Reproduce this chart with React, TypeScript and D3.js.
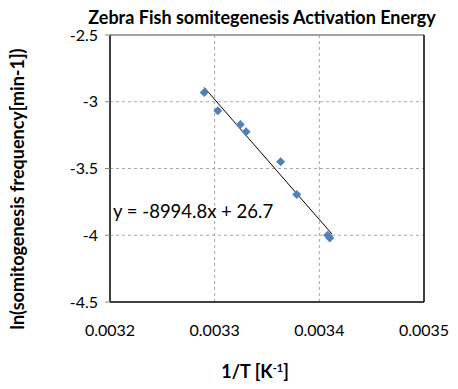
import { useEffect } from "react";
import * as d3 from "d3";

// measured data (1/T in K^-1, ln of somitogenesis frequency)
const invT = [0.00329, 0.003303, 0.0033245, 0.00333, 0.003363, 0.0033784, 0.003408, 0.00341];
const lnFreq = [-2.93, -3.068, -3.17, -3.225, -3.45, -3.695, -4.0, -4.02];

const xTicks = [0.0032, 0.0033, 0.0034, 0.0035];
const yTicks = [-2.5, -3, -3.5, -4, -4.5];

// fitted trendline
const slope = -8994.8;
const intercept = 26.7;
const fitRange = [0.00329, 0.003412];

const W = 458;
const H = 389;
const plot = { left: 110, right: 424, top: 35, bottom: 302 };
const FONT = "Lato, 'Open Sans', sans-serif";

export default function App() {
  useEffect(() => {
    document.body.style.margin = "0";
  }, []);

  const x = d3.scaleLinear().domain([0.0032, 0.0035]).range([plot.left, plot.right]);
  const y = d3.scaleLinear().domain([-4.5, -2.5]).range([plot.bottom, plot.top]);

  const diamond = (r: number) => `M0,${-r}L${r},0L0,${r}L${-r},0Z`;
  const fitLine = d3
    .line<number>()
    .x((d) => x(d))
    .y((d) => y(slope * d + intercept));

  return (
    <svg width={W} height={H} style={{ display: "block", background: "#fff" }} fontFamily={FONT}>
      {/* gridlines */}
      {xTicks.slice(1, -1).map((t) => (
        <line key={"gx" + t} x1={x(t)} x2={x(t)} y1={plot.top} y2={plot.bottom}
          stroke="#a6a6a6" strokeDasharray="3,3" strokeWidth={1} />
      ))}
      {yTicks.slice(1, -1).map((t) => (
        <line key={"gy" + t} x1={plot.left} x2={plot.right} y1={y(t)} y2={y(t)}
          stroke="#a6a6a6" strokeDasharray="3,3" strokeWidth={1} />
      ))}

      {/* plot area border */}
      <line x1={plot.left} x2={plot.right} y1={plot.top} y2={plot.top} stroke="#858585" strokeWidth={1.5} />
      <line x1={plot.right} x2={plot.right} y1={plot.top} y2={plot.bottom} stroke="#000" strokeWidth={1.5} />
      <line x1={plot.left} x2={plot.right} y1={plot.bottom} y2={plot.bottom} stroke="#000" strokeWidth={1.5} />
      <line x1={plot.left} x2={plot.left} y1={plot.top} y2={plot.bottom} stroke="#404040" strokeWidth={2} />

      {/* y ticks + labels */}
      {yTicks.map((t) => (
        <g key={"yt" + t}>
          <line x1={plot.left - 5} x2={plot.left} y1={y(t)} y2={y(t)} stroke="#858585" strokeWidth={1} />
          <text x={plot.left - 12} y={y(t)} dy="0.35em" textAnchor="end" fontSize={16} fill="#000">
            {String(t)}
          </text>
        </g>
      ))}

      {/* x labels */}
      {xTicks.map((t) => (
        <text key={"xt" + t} x={x(t)} y={plot.bottom + 28} dy="0.35em" textAnchor="middle" fontSize={16} fill="#000">
          {t.toFixed(4)}
        </text>
      ))}

      {/* trendline */}
      <path d={fitLine(fitRange) ?? ""} fill="none" stroke="#000" strokeWidth={1} />

      {/* points */}
      {invT.map((v, i) => (
        <path key={"p" + i} d={diamond(4.5)} transform={`translate(${x(v)},${y(lnFreq[i])})`} fill="#4f81bd" />
      ))}

      {/* equation */}
      <text x={113} y={218} fontSize={18.5} fill="#000">
        y = -8994.8x + 26.7
      </text>

      {/* titles */}
      <text x={262} y={24} textAnchor="middle" fontSize={18} fontWeight="bold" fill="#000">
        Zebra Fish somitegenesis Activation Energy
      </text>
      <text x={255} y={378} textAnchor="middle" fontSize={18} fontWeight="bold" fill="#000">
        1/T [K<tspan dy={-6} fontSize={11}>-1</tspan><tspan dy={6}>]</tspan>
      </text>
      <text transform={`translate(24,189) rotate(-90)`} textAnchor="middle" fontSize={18} fontWeight="bold" fill="#000">
        ln(somitogenesis frequency[min-1])
      </text>
    </svg>
  );
}
